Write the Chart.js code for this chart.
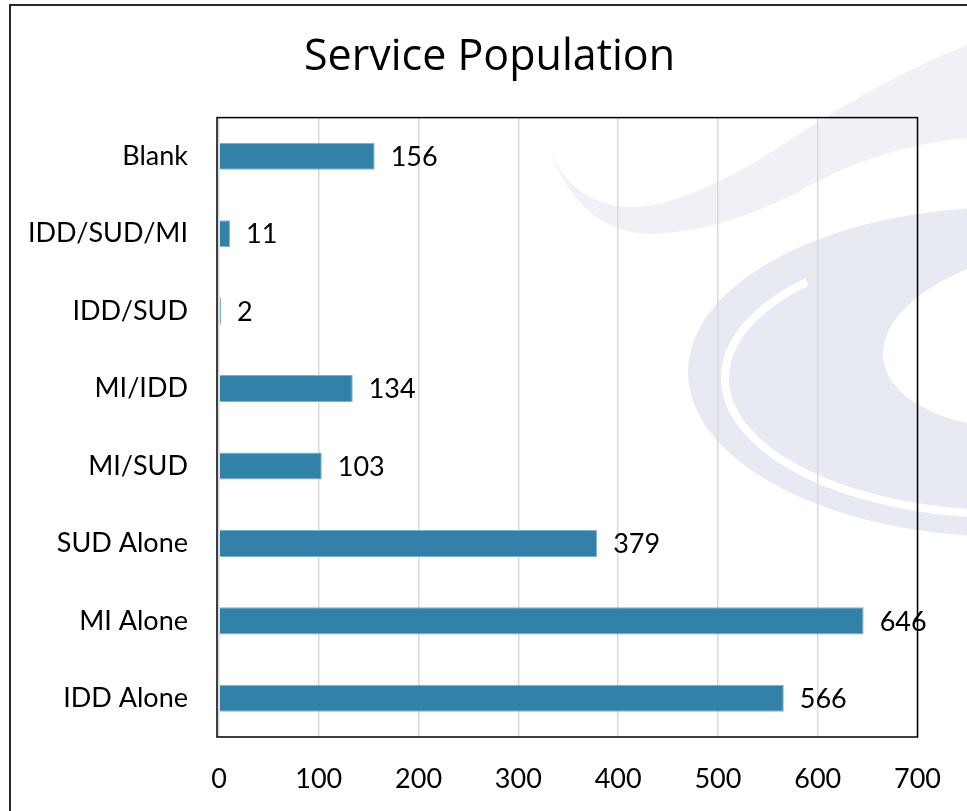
<!DOCTYPE html>
<html lang="en">
  <head>
    <meta charset="UTF-8" />
    <title>Service Population</title>
    <script src="https://cdn.jsdelivr.net/npm/chart.js@4/dist/chart.umd.min.js"></script>
    <style>
      html, body { margin: 0; padding: 0; background: #ffffff; }
      .chart-box { width: 967px; height: 811px; position: relative; }
    </style>
  </head>
  <body>
    <div class="chart-box">
      <canvas id="serviceChart"></canvas>
    </div>

    <script>
      // values, top to bottom
      const categories = ["Blank", "IDD/SUD/MI", "IDD/SUD", "MI/IDD", "MI/SUD", "SUD Alone", "MI Alone", "IDD Alone"];
      const counts = [156, 11, 2, 134, 103, 379, 646, 566];
      const xTicks = [0, 100, 200, 300, 400, 500, 600, 700];

      const FONT = "Lato, 'Open Sans', sans-serif";

      // faint logo swirl behind the plot
      const watermark = {
        id: "watermark",
        beforeDraw(chart) {
          const ctx = chart.ctx;
          ctx.save();
          // upper swoosh
          ctx.fillStyle = "#eff1f7";
          ctx.beginPath();
          ctx.moveTo(550, 150);
          ctx.quadraticCurveTo(580, 232, 650, 234);
          ctx.quadraticCurveTo(730, 232, 820, 180);
          ctx.quadraticCurveTo(890, 145, 967, 138);
          ctx.lineTo(967, 45);
          ctx.quadraticCurveTo(880, 80, 790, 140);
          ctx.quadraticCurveTo(700, 200, 640, 207);
          ctx.quadraticCurveTo(575, 210, 550, 150);
          ctx.fill();
          // big crescent
          ctx.fillStyle = "#e8eaf3";
          ctx.beginPath();
          ctx.ellipse(1010, 372, 322, 165, 0, 0, Math.PI * 2);
          ctx.fill();
          // white gap inside the crescent
          ctx.strokeStyle = "#ffffff";
          ctx.lineWidth = 8;
          ctx.beginPath();
          ctx.ellipse(1005, 378, 280, 136, 0, Math.PI * 0.5, Math.PI * 1.25);
          ctx.stroke();
          // hole
          ctx.fillStyle = "#ffffff";
          ctx.beginPath();
          ctx.ellipse(1060, 338, 178, 90, -0.12, 0, Math.PI * 2);
          ctx.fill();
          ctx.restore();
        },
      };

      // value labels at the end of each bar, plot frame and outer frame
      const extras = {
        id: "extras",
        afterLayout(chart) {
          // title sits a little right of the canvas centre in the original
          if (chart.titleBlock) {
            chart.titleBlock.left += 22;
            chart.titleBlock.right += 22;
          }
        },
        afterDatasetsDraw(chart) {
          const ctx = chart.ctx;
          const meta = chart.getDatasetMeta(0);
          ctx.save();
          ctx.font = "27px " + FONT;
          ctx.fillStyle = "#000000";
          ctx.textAlign = "left";
          ctx.textBaseline = "middle";
          meta.data.forEach((bar, i) => {
            ctx.fillText(String(counts[i]), bar.x + 16, bar.y + 1);
          });
          ctx.restore();
        },
        afterDraw(chart) {
          const ctx = chart.ctx;
          const a = chart.chartArea;
          ctx.save();
          ctx.strokeStyle = "#000000";
          ctx.lineWidth = 1.5;
          ctx.strokeRect(a.left - 2, a.top, a.right - a.left + 2, a.bottom - a.top);
          ctx.strokeStyle = "#262626";
          ctx.lineWidth = 2;
          ctx.beginPath();
          ctx.moveTo(10, 811);
          ctx.lineTo(10, 5);
          ctx.lineTo(967, 5);
          ctx.stroke();
          ctx.restore();
        },
      };

      new Chart(document.getElementById("serviceChart"), {
        type: "bar",
        data: {
          labels: categories,
          datasets: [
            {
              label: "Service Population",
              data: counts,
              backgroundColor: "#3281a8",
              borderColor: "#7db3d1",
              borderWidth: 1,
              barPercentage: 0.35,
              categoryPercentage: 1.0,
            },
          ],
        },
        options: {
          indexAxis: "y",
          responsive: true,
          maintainAspectRatio: false,
          animation: false,
          layout: { padding: { left: 13, right: 45, top: 0, bottom: 0 } },
          plugins: {
            legend: { display: false },
            tooltip: { enabled: false },
            title: {
              display: true,
              text: "Service Population",
              color: "#000000",
              font: { family: "'Open Sans', Lato, sans-serif", size: 43, weight: "normal" },
              padding: { top: 32, bottom: 34 },
            },
          },
          scales: {
            x: {
              min: 0,
              max: 700,
              afterBuildTicks(scale) {
                scale.ticks = xTicks.map((v) => ({ value: v }));
              },
              afterFit(scale) {
                scale.height = 74;
              },
              grid: { color: "#d9d9d9", lineWidth: 1.5, drawTicks: false },
              border: { display: false },
              ticks: {
                color: "#000000",
                padding: 26,
                maxRotation: 0,
                font: { family: FONT, size: 27 },
              },
            },
            y: {
              afterFit(scale) {
                scale.width = 206;
              },
              grid: { display: false, drawTicks: false },
              border: { display: false },
              ticks: {
                color: "#000000",
                padding: 31,
                font: { family: FONT, size: 27 },
              },
            },
          },
        },
        plugins: [watermark, extras],
      });
    </script>
  </body>
</html>
